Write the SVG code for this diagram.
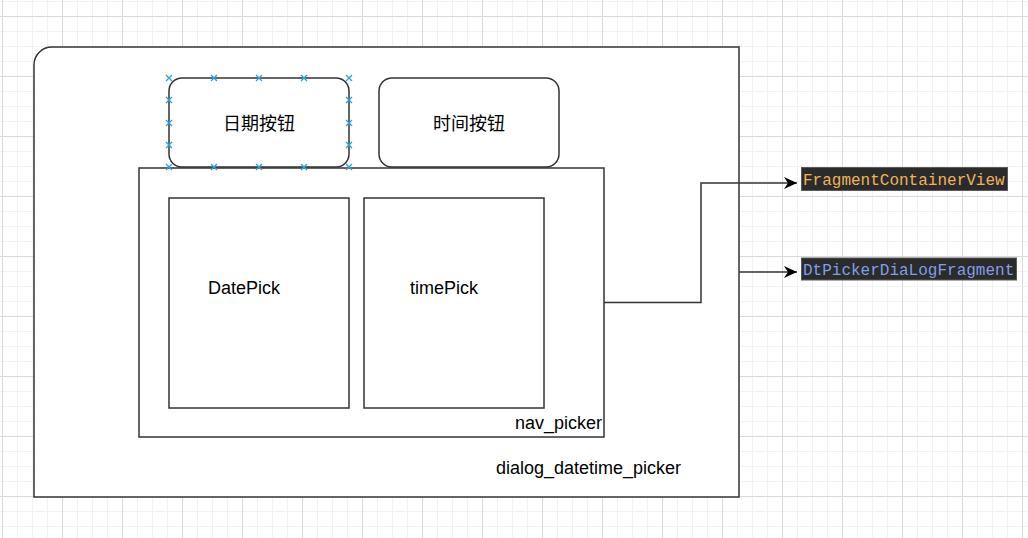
<svg xmlns="http://www.w3.org/2000/svg" xmlns:xlink="http://www.w3.org/1999/xlink" width="1028" height="538" viewBox="0 0 1028 538">
<style>
.shape{fill:#ffffff;stroke:#333333;stroke-width:1.5}
.lbl{font-family:"Liberation Sans",Arial,sans-serif;font-size:18px;fill:#000000}
.cjk{font-family:"Liberation Sans","Noto Sans CJK SC",sans-serif;font-size:18px;fill:#000000}
.edge{fill:none;stroke:#333333;stroke-width:1.5}
.code{font-family:"Liberation Mono","Courier New",monospace;font-size:16px}
.pt{fill:none;stroke:#29a3e0;stroke-width:1.3}
</style>
<defs>
<pattern id="grid" x="2" y="16" width="60" height="60" patternUnits="userSpaceOnUse">
<path d="M15.5,0V60M30.5,0V60M45.5,0V60M0,15.5H60M0,30.5H60M0,45.5H60" stroke="#f2f2f2" stroke-width="1" fill="none"/>
<path d="M0.5,0V60M0,0.5H60" stroke="#dadada" stroke-width="1" fill="none"/>
</pattern>
<marker id="arrow" markerUnits="userSpaceOnUse" markerWidth="14" markerHeight="14" refX="13" refY="6" orient="auto" viewBox="0 0 14 12">
<path d="M0,0L13,6L0,12L4,6Z" fill="#000000"/>
</marker>
<path id="x" d="M-3,-3L3,3M-3,3L3,-3" class="pt"/>
</defs>
<rect width="1028" height="538" fill="#ffffff"/>
<rect width="1028" height="538" fill="url(#grid)"/>

<g id="dialog_datetime_picker">
<path class="shape" d="M34,65A18,18 0 0 1 52,47H739V497H34Z"/>
<text class="lbl" x="496" y="474">dialog_datetime_picker</text>
</g>

<g id="nav_picker">
<rect class="shape" x="139" y="168" width="465" height="269"/>
<text class="lbl" x="602" y="429" text-anchor="end">nav_picker</text>
</g>

<g id="date_button">
<rect class="shape" x="169" y="78" width="180" height="89" rx="13" ry="13"/>
<text class="cjk" x="259" y="130" text-anchor="middle">日期按钮</text>
<g>
<use xlink:href="#x" x="169" y="78"/><use xlink:href="#x" x="214" y="78"/><use xlink:href="#x" x="259" y="78"/><use xlink:href="#x" x="304" y="78"/><use xlink:href="#x" x="349" y="78"/>
<use xlink:href="#x" x="169" y="167"/><use xlink:href="#x" x="214" y="167"/><use xlink:href="#x" x="259" y="167"/><use xlink:href="#x" x="304" y="167"/><use xlink:href="#x" x="349" y="167"/>
<use xlink:href="#x" x="169" y="100"/><use xlink:href="#x" x="169" y="123"/><use xlink:href="#x" x="169" y="145"/>
<use xlink:href="#x" x="349" y="100"/><use xlink:href="#x" x="349" y="123"/><use xlink:href="#x" x="349" y="145"/>
</g>
</g>

<g id="time_button">
<rect class="shape" x="379" y="78" width="180" height="89" rx="13" ry="13"/>
<text class="cjk" x="469" y="130" text-anchor="middle">时间按钮</text>
</g>

<g id="DatePick">
<rect class="shape" x="169" y="198" width="180" height="210"/>
<text class="lbl" x="208" y="294">DatePick</text>
</g>

<g id="timePick">
<rect class="shape" x="364" y="198" width="180" height="210"/>
<text class="lbl" x="410" y="294">timePick</text>
</g>

<g id="connectors">
<path class="edge" d="M604,302.5H701V183H797" marker-end="url(#arrow)"/>
<path class="edge" d="M739,272H797" marker-end="url(#arrow)"/>
</g>

<g id="FragmentContainerView">
<rect x="801.5" y="167.5" width="206" height="23" fill="#2b2b2b" stroke="#5a5a5a" stroke-width="1"/>
<text class="code" x="803" y="185" fill="#f0b35a">FragmentContainerView</text>
</g>

<g id="DtPickerDiaLogFragment">
<rect x="801.5" y="258" width="215" height="22" fill="#2b2b2b" stroke="#5a5a5a" stroke-width="1"/>
<text class="code" x="803" y="275" fill="#7f9fe6">DtPickerDiaLogFragment</text>
</g>
</svg>
